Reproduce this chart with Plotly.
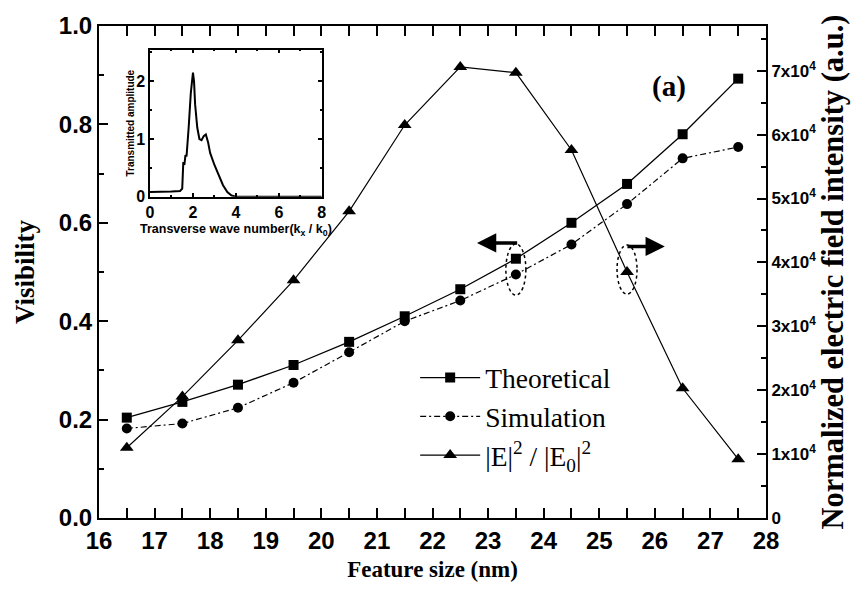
import plotly.graph_objects as go

# ---------------- data ----------------
feature_size = [16.5, 17.5, 18.5, 19.5, 20.5, 21.5, 22.5, 23.5, 24.5, 25.5, 26.5, 27.5]
theoretical = [0.204, 0.236, 0.271, 0.311, 0.358, 0.410, 0.465, 0.527, 0.600, 0.679, 0.780, 0.893]
simulation = [0.182, 0.192, 0.224, 0.275, 0.337, 0.400, 0.442, 0.495, 0.556, 0.638, 0.731, 0.754]
field_ratio = [1.10e4, 1.90e4, 2.78e4, 3.72e4, 4.80e4, 6.15e4, 7.06e4, 6.97e4, 5.76e4, 3.85e4, 2.03e4, 0.92e4]

inset_k = [0, 0.5, 1.0, 1.4, 1.5, 1.55, 1.6, 1.65, 1.7, 1.8, 1.9, 2.0, 2.05, 2.1, 2.2, 2.3,
           2.4, 2.5, 2.6, 2.7, 2.8, 3.0, 3.2, 3.4, 3.6, 3.8, 4.0, 5.0, 6.0, 7.0, 8.0]
inset_amp = [0.08, 0.08, 0.09, 0.10, 0.14, 0.60, 0.55, 0.72, 0.70, 1.20, 1.80, 2.15, 2.00, 1.60,
             1.20, 1.00, 0.98, 1.05, 1.08, 0.95, 0.76, 0.55, 0.38, 0.20, 0.08, 0.02, 0.0, 0.0, 0.0, 0.0, 0.0]

x_ticks = list(range(16, 29))
right_tickvals = [0, 1e4, 2e4, 3e4, 4e4, 5e4, 6e4, 7e4]
right_ticktext = ["0"] + [f"{i}x10<sup>4</sup>" for i in range(1, 8)]

SANS = "Liberation Sans, Arial, sans-serif"
SERIF = "Liberation Serif, Times New Roman, serif"
RIGHT_MAX = 7.7e4

fig = go.Figure()
fig.add_trace(go.Scatter(
    x=feature_size, y=theoretical, mode="lines+markers", name="Theoretical",
    line=dict(color="black", width=1.3),
    marker=dict(symbol="square", size=10, color="black"),
    xaxis="x", yaxis="y", legendgroup="a"))
fig.add_trace(go.Scatter(
    x=feature_size, y=simulation, mode="lines+markers", name="Simulation",
    line=dict(color="black", width=1.2, dash="6px,3px,2px,3px"),
    marker=dict(symbol="circle", size=10, color="black"),
    xaxis="x", yaxis="y", legendgroup="b"))
fig.add_trace(go.Scatter(
    x=feature_size, y=field_ratio, mode="lines+markers",
    name="|E|<sup>2</sup> / |E<sub>0</sub>|<sup>2</sup>",
    line=dict(color="black", width=1.2),
    marker=dict(symbol="triangle-up", size=12, color="black"),
    xaxis="x", yaxis="y2", legendgroup="c"))
fig.add_trace(go.Scatter(
    x=inset_k, y=inset_amp, mode="lines", showlegend=False,
    line=dict(color="black", width=2),
    xaxis="x3", yaxis="y3"))

axis_common = dict(showline=True, linecolor="black", linewidth=2, ticks="inside",
                   tickcolor="black", tickwidth=2, showgrid=False, zeroline=False)

fig.update_layout(
    width=861, height=590,
    margin=dict(l=99, r=95, t=18, b=71),
    paper_bgcolor="white", plot_bgcolor="white",
    showlegend=True,
    legend=dict(x=0.474, y=0.335, xanchor="left", yanchor="top",
                font=dict(family=SERIF, size=27.5, color="black"),
                bgcolor="rgba(0,0,0,0)", itemwidth=60, tracegroupgap=0),
    xaxis=dict(**axis_common, range=[16, 28], tickvals=x_ticks, ticklen=10, mirror="allticks",
               minor=dict(dtick=0.5, tick0=16, ticks="inside", ticklen=5, tickwidth=1.5, tickcolor="black"),
               tickfont=dict(family=SANS, size=24, color="black", weight="bold"),
               title=dict(text="Feature size (nm)", standoff=8,
                          font=dict(family=SERIF, size=23, color="black", weight="bold"))),
    yaxis=dict(**axis_common, range=[0, 1], dtick=0.2, tickformat=".1f", ticklen=9,
               minor=dict(dtick=0.1, ticks="inside", ticklen=5, tickwidth=1.5, tickcolor="black"),
               tickfont=dict(family=SANS, size=24, color="black", weight="bold"),
               title=dict(text="Visibility", standoff=16,
                          font=dict(family=SERIF, size=27, color="black", weight="bold"))),
    yaxis2=dict(**axis_common, overlaying="y", side="right", anchor="x", range=[0, RIGHT_MAX],
                tickmode="array", tickvals=right_tickvals, ticktext=right_ticktext, ticklen=9,
                minor=dict(dtick=5000, tick0=0, ticks="inside", ticklen=5, tickwidth=1.5, tickcolor="black"),
                tickfont=dict(family=SANS, size=17, color="black", weight="bold"),
                title=dict(text="Normalized electric field intensity (a.u.)", standoff=4,
                           font=dict(family=SERIF, size=30.5, color="black", weight="bold"))),
    xaxis3=dict(showline=True, linecolor="black", linewidth=1.5, mirror="ticks", ticks="inside",
                ticklen=4, tickwidth=1.5, tickcolor="black", showgrid=False, zeroline=False,
                domain=[0.0765, 0.334], anchor="y3", range=[0, 8], dtick=2,
                minor=dict(dtick=1, ticks="inside", ticklen=2, tickcolor="black"),
                tickfont=dict(family=SANS, size=16, color="black", weight="bold"),
                title=dict(text="Transverse wave number(k<sub>x</sub> / k<sub>0</sub>)", standoff=5,
                           font=dict(family=SANS, size=12.5, color="black", weight="bold"))),
    yaxis3=dict(showline=True, linecolor="black", linewidth=1.5, mirror="ticks", ticks="inside",
                ticklen=4, tickwidth=1.5, tickcolor="black", showgrid=False, zeroline=False,
                domain=[0.653, 0.952], anchor="x3", range=[0, 2.55], dtick=1,
                minor=dict(dtick=0.5, ticks="inside", ticklen=2, tickcolor="black"),
                tickfont=dict(family=SANS, size=16, color="black", weight="bold"),
                title=dict(text="Transmitted amplitude", standoff=0,
                           font=dict(family=SANS, size=10, color="black", weight="bold"))),
)

# "(a)" label
fig.add_annotation(text="(a)", xref="paper", yref="paper", x=0.883, y=0.914,
                   showarrow=False, font=dict(family=SERIF, size=29, color="black", weight="bold"))

# dotted ellipses around marked points
i_left, i_right = 7, 9
fig.add_shape(type="circle", xref="x", yref="y",
              x0=feature_size[i_left] - 0.18, x1=feature_size[i_left] + 0.18,
              y0=simulation[i_left] - 0.042, y1=theoretical[i_left] + 0.03,
              line=dict(color="black", width=1.5, dash="dot"))
tri_left = field_ratio[i_right] / RIGHT_MAX
fig.add_shape(type="circle", xref="x", yref="y",
              x0=feature_size[i_right] - 0.18, x1=feature_size[i_right] + 0.18,
              y0=tri_left - 0.045, y1=tri_left + 0.055,
              line=dict(color="black", width=1.5, dash="dot"))

# arrows indicating which axis
arrow_y_left = theoretical[i_left] + 0.032
fig.add_annotation(x=feature_size[i_left] - 0.7, y=arrow_y_left, ax=feature_size[i_left] + 0.05,
                   ay=arrow_y_left, xref="x", yref="y", axref="x", ayref="y", text="",
                   showarrow=True, arrowhead=2, arrowsize=1.1, arrowwidth=3.5, arrowcolor="black")
arrow_y_right = tri_left + 0.052
fig.add_annotation(x=feature_size[i_right] + 0.68, y=arrow_y_right, ax=feature_size[i_right] - 0.02,
                   ay=arrow_y_right, xref="x", yref="y", axref="x", ayref="y", text="",
                   showarrow=True, arrowhead=2, arrowsize=1.1, arrowwidth=3.5, arrowcolor="black")

fig.write_html("out.html")
